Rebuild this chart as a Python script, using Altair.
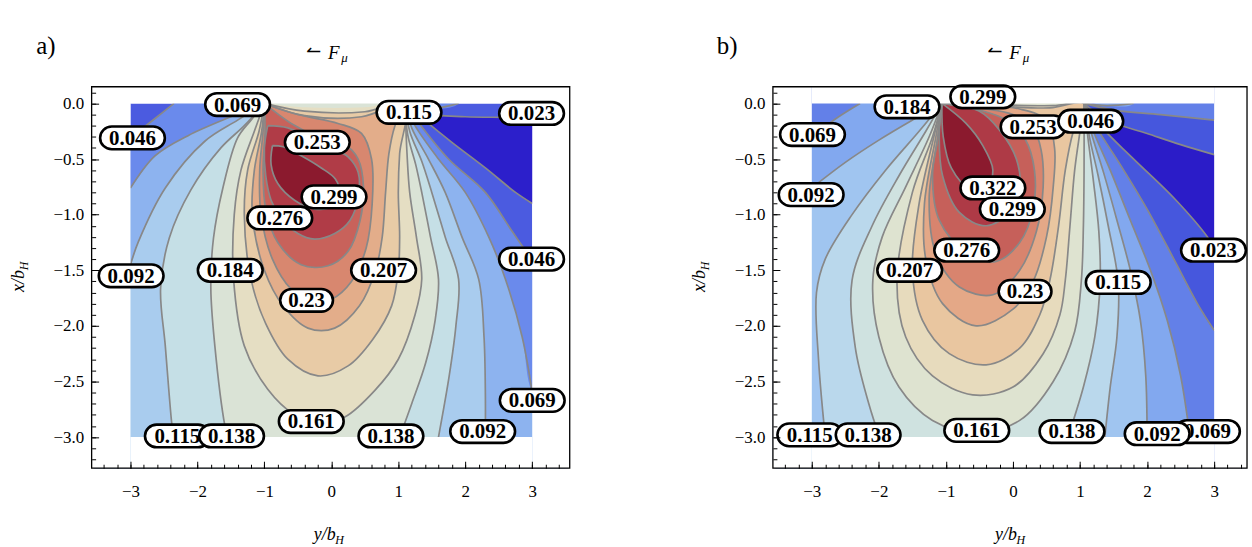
import altair as alt
import pandas as pd

# ------------------------------------------------------------------ data
PALETTE_A = ["#2c1fcb", "#4b5be0", "#6a8aec", "#8db3ef", "#a9ccee", "#c5dfe6", "#dae3d6",
             "#e5dec3", "#e8cba6", "#e3ad8a", "#d8876f", "#c8625b", "#b03c47", "#8b1a2e"]
PALETTE_B = ["#2b1cc8", "#4657dd", "#6380e8", "#82a8ef", "#a0c5f0", "#bad8ec", "#cfe2e0",
             "#dee3d0", "#e7dbbd", "#e9c6a0", "#e4a887", "#d8846e", "#c6605a", "#ae3a46", "#8b1a2e"]

DOMAIN_Y = [-3.0, 3.0]
DOMAIN_X = [-3.0, 0.0]
AXIS_Y_A = [-3.58, 3.56]
AXIS_Y_B = [-3.58, 3.49]
AXIS_X = [-3.28, 0.15]

X_TICKS = [-3, -2, -1, 0, 1, 2, 3]
X_MINOR = [-3.4, -3.2, -3.0, -2.8, -2.6, -2.4, -2.2, -2.0, -1.8, -1.6, -1.4, -1.2, -1.0, -0.8, -0.6,
           -0.4, -0.2, 0.0, 0.2, 0.4, 0.6, 0.8, 1.0, 1.2, 1.4, 1.6, 1.8, 2.0, 2.2, 2.4, 2.6, 2.8,
           3.0, 3.2, 3.4]
Y_TICKS = [-3.0, -2.5, -2.0, -1.5, -1.0, -0.5, 0.0]
Y_MINOR = [-3.2, -3.1, -3.0, -2.9, -2.8, -2.7, -2.6, -2.5, -2.4, -2.3, -2.2, -2.1, -2.0, -1.9,
           -1.8, -1.7, -1.6, -1.5, -1.4, -1.3, -1.2, -1.1, -1.0, -0.9, -0.8, -0.7, -0.6, -0.5,
           -0.4, -0.3, -0.2, -0.1, 0.0, 0.1]

# ---- panel a contour lines, (y/b_H, x/b_H)
a023u = [(1.1, 0.0), (1.4, -0.09), (2.0, -0.12), (2.6, -0.125), (3.0, -0.13)]
a023l = [(1.1, 0.0), (1.35, -0.13), (1.8, -0.35), (2.3, -0.58), (2.75, -0.8), (3.0, -0.9)]
a046u = [(1.1, 0.0), (1.5, -0.045), (1.9, 0.0)]
a046l = [(1.1, 0.0), (1.3, -0.17), (1.75, -0.5), (2.3, -0.8), (2.7, -1.15), (3.0, -1.41)]
a046L = [(-2.35, 0.0), (-2.6, -0.12), (-3.0, -0.31)]
a069r = [(1.1, 0.0), (1.25, -0.2), (1.6, -0.5), (2.0, -0.8), (2.35, -1.2), (2.6, -1.58), (2.85, -2.1), (3.0, -2.6)]
a092r = [(1.1, 0.0), (1.2, -0.22), (1.45, -0.5), (1.7, -0.8), (1.95, -1.2), (2.2, -1.58), (2.28, -2.1), (2.3, -2.6), (2.3, -3.0)]
a115r = [(1.1, 0.0), (1.17, -0.25), (1.35, -0.52), (1.5, -0.8), (1.7, -1.2), (1.9, -1.58), (1.86, -2.0), (1.76, -2.45), (1.6, -3.0)]
a138r = [(1.1, 0.0), (1.14, -0.28), (1.26, -0.55), (1.35, -0.8), (1.48, -1.2), (1.6, -1.58), (1.55, -1.95), (1.41, -2.33), (1.2, -2.7), (1.02, -3.0)]
aA = [(-1.0, 0.0), (-1.5, -0.12), (-2.14, -0.29), (-2.63, -0.47), (-3.0, -0.76)]
aB = [(-1.0, 0.0), (-1.4, -0.15), (-1.89, -0.34), (-2.48, -0.76), (-2.88, -1.24), (-3.0, -1.45)]
aC = [(-1.0, 0.0), (-1.3, -0.2), (-1.65, -0.4), (-2.1, -0.78), (-2.42, -1.21), (-2.55, -1.66), (-2.48, -2.18), (-2.39, -2.84), (-2.36, -3.0)]
aD = [(-1.0, 0.0), (-1.2, -0.15), (-1.4, -0.31), (-1.62, -0.76), (-1.76, -1.21), (-1.8, -1.66), (-1.74, -2.18), (-1.59, -2.9), (-1.55, -3.0)]
a161 = [(-1.0, 0.0), (-1.15, -0.25), (-1.35, -0.6), (-1.45, -1.0), (-1.46, -1.58), (-1.3, -2.18), (-0.95, -2.57), (-0.55, -2.8), (-0.2, -2.88), (0.2, -2.82), (0.65, -2.58), (1.0, -2.3), (1.25, -1.9), (1.35, -1.58), (1.27, -1.2), (1.17, -0.8), (1.13, -0.45), (1.1, 0.0)]
a161t = [(1.1, 0.0), (0.5, -0.035), (-0.4, -0.035), (-1.0, 0.0)]
a184 = [(-1.0, 0.0), (-1.08, -0.25), (-1.25, -0.6), (-1.3, -1.0), (-1.2, -1.58), (-0.98, -1.98), (-0.65, -2.3), (-0.2, -2.45), (0.25, -2.36), (0.62, -2.12), (0.9, -1.82), (1.0, -1.5), (1.02, -1.2), (1.0, -0.8), (1.02, -0.45), (1.1, 0.0)]
a184t = [(1.1, 0.0), (0.5, -0.075), (-0.4, -0.07), (-1.0, 0.0)]
a207 = [(-1.0, 0.0), (-1.04, -0.25), (-1.15, -0.6), (-1.18, -1.0), (-1.0, -1.5), (-0.72, -1.82), (-0.35, -2.02), (0.05, -2.02), (0.42, -1.82), (0.66, -1.5), (0.76, -1.2), (0.81, -0.8), (0.86, -0.45), (0.95, -0.2), (1.1, 0.0)]
a207t = [(1.1, 0.0), (0.45, -0.12), (-0.4, -0.11), (-1.0, 0.0)]
a230 = [(-1.0, 0.0), (-1.02, -0.25), (-1.07, -0.6), (-1.05, -1.0), (-0.88, -1.4), (-0.6, -1.67), (-0.3, -1.78), (0.0, -1.76), (0.3, -1.6), (0.52, -1.3), (0.61, -0.9), (0.6, -0.5), (0.45, -0.27), (0.1, -0.18), (-0.5, -0.1), (-1.0, 0.0)]
a253 = [(-1.0, 0.0), (-0.99, -0.25), (-1.02, -0.6), (-0.98, -0.95), (-0.8, -1.25), (-0.45, -1.45), (-0.05, -1.46), (0.25, -1.33), (0.43, -1.05), (0.48, -0.75), (0.4, -0.5), (0.2, -0.37), (-0.2, -0.3), (-0.6, -0.18), (-1.0, 0.0)]
a276 = [(-0.95, -0.2), (-1.0, -0.4), (-0.98, -0.65), (-0.9, -0.87), (-0.75, -1.03), (-0.5, -1.17), (-0.25, -1.22), (0.05, -1.17), (0.28, -1.05), (0.4, -0.85), (0.4, -0.62), (0.25, -0.48), (0.0, -0.4), (-0.3, -0.32), (-0.65, -0.22), (-0.95, -0.2)]
a299 = [(-0.88, -0.38), (-0.9, -0.55), (-0.8, -0.72), (-0.55, -0.87), (-0.25, -0.95), (0.02, -0.92), (0.12, -0.8), (0.06, -0.68), (-0.15, -0.58), (-0.45, -0.47), (-0.72, -0.39), (-0.88, -0.38)]

# ---- panel b contour lines
b023u = [(1.06, 0.0), (1.4, -0.15), (2.0, -0.27), (2.5, -0.37), (3.0, -0.46)]
b023l = [(1.06, 0.0), (1.3, -0.2), (1.8, -0.5), (2.4, -0.85), (2.9, -1.2), (3.0, -1.3)]
b046u = [(1.06, 0.0), (1.5, -0.06), (2.2, -0.1), (3.0, -0.15)]
b046l = [(1.06, 0.0), (1.25, -0.22), (1.6, -0.55), (2.0, -0.95), (2.4, -1.4), (2.75, -1.8), (3.0, -2.04)]
b069u = [(1.06, 0.0), (1.4, -0.02), (1.8, 0.0)]
b069r = [(1.06, 0.0), (1.2, -0.25), (1.45, -0.6), (1.75, -1.05), (2.05, -1.5), (2.3, -1.95), (2.5, -2.45), (2.64, -3.0)]
b069L = [(-2.28, 0.0), (-2.6, -0.12), (-3.0, -0.3)]
b092L = [(-1.06, 0.0), (-1.5, -0.15), (-2.0, -0.33), (-2.5, -0.53), (-3.0, -0.76)]
b092r = [(1.06, 0.0), (1.17, -0.27), (1.35, -0.62), (1.55, -1.05), (1.75, -1.5), (1.9, -1.95), (1.98, -2.45), (2.0, -3.0)]
b115L = [(-1.06, 0.0), (-1.4, -0.25), (-1.9, -0.6), (-2.4, -1.0), (-2.8, -1.4), (-2.93, -1.7), (-2.9, -2.3), (-2.8, -3.0)]
b115r = [(1.06, 0.0), (1.14, -0.3), (1.27, -0.65), (1.42, -1.1), (1.57, -1.61), (1.55, -2.1), (1.45, -2.55), (1.37, -3.0)]
b138L = [(-1.06, 0.0), (-1.3, -0.25), (-1.7, -0.65), (-2.1, -1.1), (-2.4, -1.59), (-2.35, -2.2), (-2.15, -2.7), (-1.99, -3.0)]
b138r = [(1.06, 0.0), (1.12, -0.32), (1.2, -0.7), (1.28, -1.15), (1.3, -1.6), (1.22, -2.1), (1.05, -2.55), (0.82, -3.0)]
b161 = [(-1.06, 0.0), (-1.25, -0.3), (-1.6, -0.75), (-1.95, -1.2), (-2.09, -1.59), (-2.0, -2.1), (-1.7, -2.55), (-1.2, -2.85), (-0.54, -2.96), (0.1, -2.85), (0.6, -2.5), (0.92, -2.05), (1.02, -1.59), (1.05, -1.1), (1.06, -0.6), (1.06, 0.0)]
b184 = [(-1.06, 0.0), (-1.2, -0.3), (-1.5, -0.8), (-1.73, -1.59), (-1.6, -2.1), (-1.2, -2.45), (-0.6, -2.62), (0.0, -2.55), (0.45, -2.25), (0.7, -1.9), (0.78, -1.59), (0.85, -1.1), (0.92, -0.6), (1.0, -0.25), (1.06, 0.0)]
b184t = [(1.06, 0.0), (0.6, -0.02), (-0.3, -0.012), (-1.06, 0.0)]
b207 = [(-1.06, 0.0), (-1.18, -0.3), (-1.4, -0.9), (-1.5, -1.5), (-1.35, -1.95), (-0.95, -2.25), (-0.4, -2.35), (0.1, -2.2), (0.4, -1.9), (0.55, -1.59), (0.68, -1.1), (0.78, -0.6), (0.9, -0.25), (1.06, 0.0)]
b207t = [(1.06, 0.0), (0.55, -0.04), (-0.2, -0.025), (-1.06, 0.0)]
b230 = [(-1.06, 0.0), (-1.15, -0.3), (-1.32, -0.9), (-1.3, -1.4), (-1.05, -1.8), (-0.55, -2.0), (0.0, -1.85), (0.3, -1.6), (0.5, -1.2), (0.6, -0.75), (0.62, -0.4), (0.5, -0.15), (0.1, -0.05), (-0.5, -0.02), (-1.06, 0.0)]
b253 = [(-1.06, 0.0), (-1.12, -0.3), (-1.25, -0.85), (-1.15, -1.35), (-0.8, -1.65), (-0.3, -1.72), (0.1, -1.5), (0.35, -1.15), (0.45, -0.75), (0.42, -0.42), (0.3, -0.22), (0.0, -0.1), (-0.5, -0.04), (-1.06, 0.0)]
b276 = [(-1.06, 0.0), (-1.12, -0.3), (-1.2, -0.65), (-1.1, -1.05), (-0.69, -1.35), (-0.25, -1.42), (0.1, -1.25), (0.3, -0.95), (0.32, -0.6), (0.18, -0.32), (-0.1, -0.15), (-0.5, -0.06), (-1.06, 0.0)]
b299 = [(-1.06, 0.0), (-1.1, -0.3), (-1.05, -0.65), (-0.8, -0.98), (-0.4, -1.1), (-0.05, -0.98), (0.1, -0.78), (0.05, -0.5), (-0.2, -0.24), (-0.5, -0.07), (-1.06, 0.0)]
b322 = [(-1.06, 0.0), (-1.04, -0.3), (-0.92, -0.58), (-0.65, -0.76), (-0.38, -0.73), (-0.3, -0.6), (-0.45, -0.38), (-0.7, -0.18), (-1.06, 0.0)]

# ---- contour labels
A_LAB_T = ["0.069", "0.115", "0.023", "0.046", "0.253", "0.299", "0.276", "0.092", "0.184",
           "0.207", "0.046", "0.23", "0.069", "0.161", "0.115", "0.138", "0.138", "0.092"]
A_LAB_Y = [-1.40, 1.16, 2.99, -2.97, -0.21, 0.04, -0.77, -2.99, -1.51,
           0.78, 2.99, -0.37, 3.0, -0.30, -2.30, -1.49, 0.89, 2.26]
A_LAB_X = [-0.01, -0.08, -0.09, -0.31, -0.35, -0.84, -1.03, -1.55, -1.50,
           -1.50, -1.40, -1.77, -2.67, -2.86, -2.99, -2.99, -2.99, -2.95]

B_LAB_T = ["0.184", "0.299", "0.253", "0.046", "0.069", "0.092", "0.322", "0.299", "0.276",
           "0.207", "0.23", "0.115", "0.023", "0.115", "0.138", "0.161", "0.138", "0.069", "0.092"]
B_LAB_Y = [-1.58, -0.45, 0.30, 1.16, -2.99, -3.01, -0.30, -0.01, -0.69,
           -1.54, 0.18, 1.57, 2.99, -3.03, -2.16, -0.54, 0.88, 2.90, 2.15]
B_LAB_X = [-0.03, 0.06, -0.21, -0.16, -0.28, -0.82, -0.76, -0.95, -1.32,
           -1.50, -1.69, -1.61, -1.32, -2.98, -2.98, -2.94, -2.95, -2.95, -2.97]

CONTOURS = {k: v for k, v in dict(globals()).items()
            if isinstance(v, list) and k[:1] in ("a", "b") and k[1:2] in "0123456789ABCDL"
            and v and isinstance(v[0], tuple)}

# painter's order: (band index, outline made of contour pieces and outside points)
A_REGIONS = [
    (0, ["a023u", (3.3, -0.14), (3.3, -0.95), "-a023l"]),
    (2, ["a046L", (-3.3, -0.4), (-3.4, -3.4), (3.4, -3.4), (3.3, -1.6), "-a046l", "a046u", (1.95, 0.3), (-2.35, 0.3)]),
    (3, ["aA", (-3.3, -0.95), (-3.4, -3.4), (3.4, -3.4), (3.3, -2.8), "-a069r", (1.1, 0.3), (-1.0, 0.3)]),
    (4, ["aB", (-3.3, -1.65), (-3.4, -3.4), (2.3, -3.4), "-a092r", (1.1, 0.3), (-1.0, 0.3)]),
    (5, ["aC", (-2.33, -3.4), (1.55, -3.4), "-a115r", (1.1, 0.3), (-1.0, 0.3)]),
    (6, ["aD", (-1.52, -3.4), (0.98, -3.4), "-a138r", (1.1, 0.3), (-1.0, 0.3)]),
    (7, ["a161", "a161t"]),
    (8, ["a184", "a184t"]),
    (9, ["a207", "a207t"]),
    (10, ["a230"]), (11, ["a253"]), (12, ["a276"]), (13, ["a299"]),
]
A_LINES = ["a023u", "a023l", "a046u", "a046l", "a046L", "a069r", "a092r", "a115r", "a138r",
           "aA", "aB", "aC", "aD", "a161", ["a184", "a184t"], ["a207", "a207t"],
           "a230", "a253", "a276", "a299"]

B_REGIONS = [
    (0, ["b023u", (3.3, -0.5), (3.3, -1.4), "-b023l"]),
    (2, [(-3.4, 0.3), (-3.4, -3.4), (3.4, -3.4), (3.3, -2.2), "-b046l", "b046u", (3.3, -0.17), (3.4, 0.3)]),
    (3, ["b069L", (-3.3, -0.4), (-3.4, -3.4), (2.66, -3.4), "-b069r", "b069u", (1.85, 0.3), (-2.28, 0.3)]),
    (4, ["b092L", (-3.3, -0.9), (-3.4, -3.4), (2.0, -3.4), "-b092r", (1.06, 0.3), (-1.06, 0.3)]),
    (5, ["b115L", (-2.78, -3.4), (1.36, -3.4), "-b115r", (1.06, 0.3), (-1.06, 0.3)]),
    (6, ["b138L", (-1.97, -3.4), (0.8, -3.4), "-b138r", (1.06, 0.3), (-1.06, 0.3)]),
    (7, ["b161", (1.06, 0.3), (-1.06, 0.3)]),
    (8, ["b184", "b184t"]),
    (9, ["b207", "b207t"]),
    (10, ["b230"]), (11, ["b253"]), (12, ["b276"]), (13, ["b299"]), (14, ["b322"]),
]
B_LINES = ["b023u", "b023l", "b046u", "b046l", "b069u", "b069r", "b069L", "b092L", "b092r",
           "b115L", "b115r", "b138L", "b138r", "b161", ["b184", "b184t"], ["b207", "b207t"],
           "b230", "b253", "b276", "b299", "b322"]

# ------------------------------------------------------------------ style
SERIF = "Liberation Serif, Times New Roman, DejaVu Serif, serif"
H = 383
W_A, W_B = 480, 476
LINE_GRAY = "#888888"
PATH5 = "M-0.64,-0.35L0.64,-0.35A0.36,0.35 0 0 1 0.64,0.35L-0.64,0.35A0.36,0.35 0 0 1 -0.64,-0.35Z"
PATH4 = "M-0.56,-0.43L0.56,-0.43A0.44,0.43 0 0 1 0.56,0.43L-0.56,0.43A0.44,0.43 0 0 1 -0.56,-0.43Z"


def outline(spec):
    pts = []
    for s in spec:
        if isinstance(s, str):
            if s.startswith("-"):
                pts.extend(reversed(CONTOURS[s[1:]]))
            else:
                pts.extend(CONTOURS[s])
        else:
            pts.append(s)
    out = []
    for p in pts:
        if not out or abs(out[-1][0] - p[0]) > 1e-9 or abs(out[-1][1] - p[1]) > 1e-9:
            out.append(p)
    return out


def make_panel(tag, regions, line_specs, lt, ly, lx, palette, width, ydom):
    xs = alt.Scale(domain=ydom, nice=False, zero=False)
    ys = alt.Scale(domain=AXIS_X, nice=False, zero=False)
    ax_x = alt.Axis(orient="bottom", values=X_TICKS, format="d", tickSize=7, offset=-7,
                    domain=False, grid=False, labelFont=SERIF, labelFontSize=17,
                    labelColor="black", tickColor="black", labelPadding=15, title=None, zindex=3)
    ax_y = alt.Axis(orient="left", values=Y_TICKS, format=".1f", tickSize=7, offset=-7,
                    domain=False, grid=False, labelFont=SERIF, labelFontSize=17,
                    labelColor="black", tickColor="black", labelPadding=8, title=None, zindex=3)
    ax_xm = alt.Axis(orient="bottom", values=X_MINOR, tickSize=4, offset=-4, domain=False,
                     grid=False, labels=False, tickColor="black", title=None, zindex=3)
    ax_ym = alt.Axis(orient="left", values=Y_MINOR, tickSize=4, offset=-4, domain=False,
                     grid=False, labels=False, tickColor="black", title=None, zindex=3)

    layers = []
    bg = pd.DataFrame({"y1": [DOMAIN_Y[0]], "y2": [DOMAIN_Y[1]], "x1": [DOMAIN_X[0]], "x2": [DOMAIN_X[1]]})
    layers.append(alt.Chart(bg).mark_rect(color=palette[1]).encode(
        x=alt.X("y1:Q", scale=xs, axis=ax_x), x2="y2:Q",
        y=alt.Y("x1:Q", scale=ys, axis=ax_y), y2="x2:Q"))

    for band, spec in regions:
        pts = outline(spec)
        df = pd.DataFrame({"o": list(range(len(pts))), "Y": [p[0] for p in pts], "X": [p[1] for p in pts]})
        layers.append(alt.Chart(df).mark_line(filled=True, fill=palette[band], strokeWidth=0,
                                              interpolate="catmull-rom", clip=True).encode(
            x=alt.X("Y:Q", scale=xs, axis=None), y=alt.Y("X:Q", scale=ys, axis=None),
            order="o:Q"))

    rows = []
    for i, spec in enumerate(line_specs):
        pts = outline(spec if isinstance(spec, list) else [spec])
        for j, p in enumerate(pts):
            rows.append({"lid": "L%02d" % i, "o": j, "Y": p[0], "X": p[1]})
    layers.append(alt.Chart(pd.DataFrame(rows)).mark_line(
        color=LINE_GRAY, strokeWidth=1.7, interpolate="catmull-rom", clip=True).encode(
        x=alt.X("Y:Q", scale=xs, axis=None), y=alt.Y("X:Q", scale=ys, axis=None),
        detail="lid:N", order="o:Q"))

    mask = pd.DataFrame({
        "y1": [ydom[0], DOMAIN_Y[1], DOMAIN_Y[0], DOMAIN_Y[0]],
        "y2": [DOMAIN_Y[0], ydom[1], DOMAIN_Y[1], DOMAIN_Y[1]],
        "x1": [AXIS_X[0], AXIS_X[0], DOMAIN_X[1], AXIS_X[0]],
        "x2": [AXIS_X[1], AXIS_X[1], AXIS_X[1], DOMAIN_X[0]],
    })
    layers.append(alt.Chart(mask).mark_rect(color="white", clip=True).encode(
        x=alt.X("y1:Q", scale=xs, axis=ax_xm), x2="y2:Q",
        y=alt.Y("x1:Q", scale=ys, axis=ax_ym), y2="x2:Q"))

    for t, yy, xx in zip(lt, ly, lx):
        d = pd.DataFrame({"t": [t], "Y": [yy], "X": [xx]})
        five = len(t) >= 5
        layers.append(alt.Chart(d).mark_point(
            shape=PATH5 if five else PATH4, size=4225 if five else 2809, filled=True,
            fill="white", stroke="black", strokeWidth=2.6, opacity=1).encode(
            x=alt.X("Y:Q", scale=xs, axis=None), y=alt.Y("X:Q", scale=ys, axis=None)))
        layers.append(alt.Chart(d).mark_text(
            font=SERIF, fontSize=21, fontWeight="bold", color="black", baseline="middle",
            align="center", dy=1).encode(
            x=alt.X("Y:Q", scale=xs, axis=None), y=alt.Y("X:Q", scale=ys, axis=None),
            text="t:N"))

    one = pd.DataFrame({"k": [0]})
    layers.append(alt.Chart(one).mark_rect(filled=False, stroke="black", strokeWidth=1.3).encode(
        x=alt.value(0), x2=alt.value(width), y=alt.value(0), y2=alt.value(H)))

    def txt(s, px, py, size, style="normal", font=SERIF, align="center"):
        return alt.Chart(one).mark_text(text=s, font=font, fontSize=size, fontStyle=style,
                                        color="black", align=align, baseline="middle").encode(
            x=alt.value(px), y=alt.value(py))

    layers += [
        txt(tag, -46, -41, 25),
        txt("\u21bc", 223, -35, 18, font="DejaVu Sans"),
        txt("F", 243, -34, 19, "italic"),
        txt("\u03bc", 254, -29, 13, "italic"),
        txt("y/b", 234, 450, 18, "italic"),
        txt("H", 249, 455, 12, "italic"),
    ]
    layers.append(alt.Chart(one).mark_text(text="x/b", font=SERIF, fontSize=18, fontStyle="italic",
                                           angle=270, color="black", baseline="middle").encode(
        x=alt.value(-73), y=alt.value(195)))
    layers.append(alt.Chart(one).mark_text(text="H", font=SERIF, fontSize=12, fontStyle="italic",
                                           angle=270, color="black", baseline="middle").encode(
        x=alt.value(-68), y=alt.value(180)))

    return alt.layer(*layers).resolve_axis(x="independent", y="independent").properties(
        width=width, height=H)


pa = make_panel("a)", A_REGIONS, A_LINES, A_LAB_T, A_LAB_Y, A_LAB_X, PALETTE_A, W_A, AXIS_Y_A)
pb = make_panel("b)", B_REGIONS, B_LINES, B_LAB_T, B_LAB_Y, B_LAB_X, PALETTE_B, W_B, AXIS_Y_B)

chart = alt.hconcat(pa, pb, spacing=121).configure_view(strokeWidth=0).properties(
    padding={"left": 10, "top": 33, "right": 0, "bottom": 0})

chart.save("out.html", embed_options={"renderer": "svg", "actions": False})
